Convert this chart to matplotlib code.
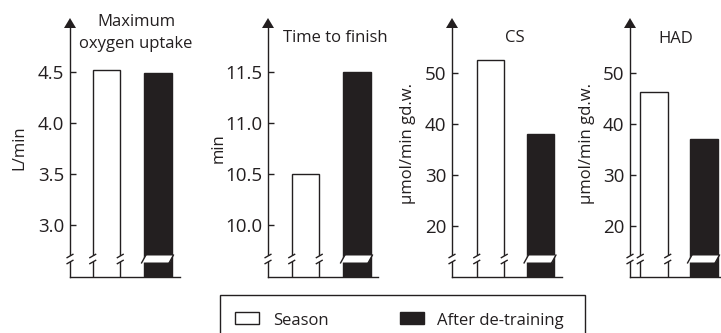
import matplotlib
matplotlib.use('Agg')
import matplotlib.pyplot as plt
from matplotlib.patches import Rectangle, Polygon
from matplotlib.lines import Line2D

plt.rcParams['font.family'] = ['Open Sans', 'DejaVu Sans']

# ---- data ----
titles = ['Maximum\noxygen uptake', 'Time to finish', 'CS', 'HAD']
ylabels = ['L/min', 'min', 'µmol/min gd.w.', 'µmol/min gd.w.']
groups = ['Season', 'After de-training']
season = [4.52, 10.5, 52.5, 46.3]
detrain = [4.49, 11.5, 38.0, 37.1]
yticks = [[3.0, 3.5, 4.0, 4.5], [10.0, 10.5, 11.0, 11.5], [20, 30, 40, 50], [20, 30, 40, 50]]
ytick_labels = [['3.0', '3.5', '4.0', '4.5'], ['10.0', '10.5', '11.0', '11.5'],
                ['20', '30', '40', '50'], ['20', '30', '40', '50']]
ylims = [(2.49, 4.93), (9.49, 11.93), (10.0, 58.8), (10.0, 58.8)]

# ---- layout (pixels) ----
W, H = 721, 333
ink = '#231f20'
ax_left = [70, 268, 452, 630]
ax_right = [180, 378, 562, 721]
bar0 = [106.5, 305.5, 490.5, 654]
step = [51.5, 51.5, 50, 50]
bottom_px, top_px, tip_px = 277, 28, 18
bar_w_px = 27.5
brk_px = 259

title_pos = [(136, None), (335, 42), (515, 42), (676, 43)]
ylabel_pos = [(19, 148), (219, 148), (408, 143), (587, 143)]

fig = plt.figure(figsize=(W / 100, H / 100), dpi=100)


def P(x, y):
    return (x / W, 1 - y / H)


def add_line(xs, ys, lw=1.0, z=10):
    pts = [P(x, y) for x, y in zip(xs, ys)]
    fig.add_artist(Line2D([p[0] for p in pts], [p[1] for p in pts], transform=fig.transFigure,
                          color=ink, lw=lw, zorder=z, solid_capstyle='butt'))


def add_poly(pts, fc, ec='none', lw=0, z=9):
    fig.add_artist(Polygon([P(x, y) for x, y in pts], closed=True, transform=fig.transFigure,
                           facecolor=fc, edgecolor=ec, lw=lw, zorder=z))


def vbreak(x):
    # gap in a vertical line with two slashes
    add_poly([(x - 2.5, brk_px - 3), (x + 2.5, brk_px - 3), (x + 2.5, brk_px + 3), (x - 2.5, brk_px + 3)], 'white')
    add_line([x - 3.5, x + 3.5], [brk_px - 1, brk_px - 5])
    add_line([x - 3.5, x + 3.5], [brk_px + 5, brk_px + 1])


for i in range(4):
    l, r, c0, s = ax_left[i], ax_right[i], bar0[i], step[i]
    ax = fig.add_axes([l / W, 1 - bottom_px / H, (r - l) / W, (bottom_px - top_px) / H])
    ax.set_xlim((l - c0) / s, (r - c0) / s)
    ax.set_ylim(*ylims[i])
    w = bar_w_px / s
    ax.bar(0, season[i], width=w, color='white', edgecolor=ink, linewidth=1.0)
    ax.bar(1, detrain[i], width=w, color=ink, edgecolor=ink, linewidth=1.0)
    for sp in ['top', 'right']:
        ax.spines[sp].set_visible(False)
    for sp in ['left', 'bottom']:
        ax.spines[sp].set_linewidth(1.0)
        ax.spines[sp].set_color(ink)
    ax.set_xticks([])
    ax.set_yticks(yticks[i])
    ax.set_yticklabels(ytick_labels[i])
    ax.tick_params(axis='y', direction='in', length=4, width=1.0, pad=4, labelsize=13.5,
                   colors=ink)
    ax.patch.set_alpha(0)

    # arrow head
    add_poly([(l - 6, top_px), (l + 6, top_px), (l, tip_px)], ink, z=11)

    # breaks on axis and white bar edges
    vbreak(l)
    wl = c0 - bar_w_px / 2
    wr = c0 + bar_w_px / 2
    vbreak(wl)
    vbreak(wr)
    # break band across black bar
    bl = c0 + s - bar_w_px / 2
    br = c0 + s + bar_w_px / 2
    add_poly([(bl - 2, brk_px + 3.5), (br - 2, brk_px + 3.5), (br + 1, brk_px - 3.5), (bl + 1, brk_px - 3.5)], 'white')
    add_line([bl - 3, bl + 2], [brk_px + 4.5, brk_px - 4.5])
    add_line([br - 3, br + 2], [brk_px + 4.5, brk_px - 4.5])

    # titles
    if i == 0:
        fig.text(*P(136, 26), 'Maximum', ha='center', va='baseline', fontsize=12, color=ink)
        fig.text(*P(136, 48), 'oxygen uptake', ha='center', va='baseline', fontsize=12, color=ink)
    else:
        tx, ty = title_pos[i]
        fig.text(*P(tx, ty), titles[i], ha='center', va='baseline', fontsize=12, color=ink)
    fig.text(*P(*ylabel_pos[i]), ylabels[i], ha='center', va='center', rotation=90,
             fontsize=12, color=ink)

# ---- legend ----
fig.add_artist(Rectangle(P(220, 345), 365 / W, 50 / H, transform=fig.transFigure,
                         facecolor='none', edgecolor=ink, lw=1.0, clip_on=False))
fig.add_artist(Rectangle(P(235, 324), 24 / W, 12 / H, transform=fig.transFigure,
                         facecolor='white', edgecolor=ink, lw=1.0))
fig.add_artist(Rectangle(P(400, 324), 24 / W, 12 / H, transform=fig.transFigure,
                         facecolor=ink, edgecolor=ink, lw=1.0))
fig.text(*P(273, 325), groups[0], ha='left', va='baseline', fontsize=12, color=ink)
fig.text(*P(437, 325), groups[1], ha='left', va='baseline', fontsize=12, color=ink)

fig.savefig('out.png', dpi=100, facecolor='white')
